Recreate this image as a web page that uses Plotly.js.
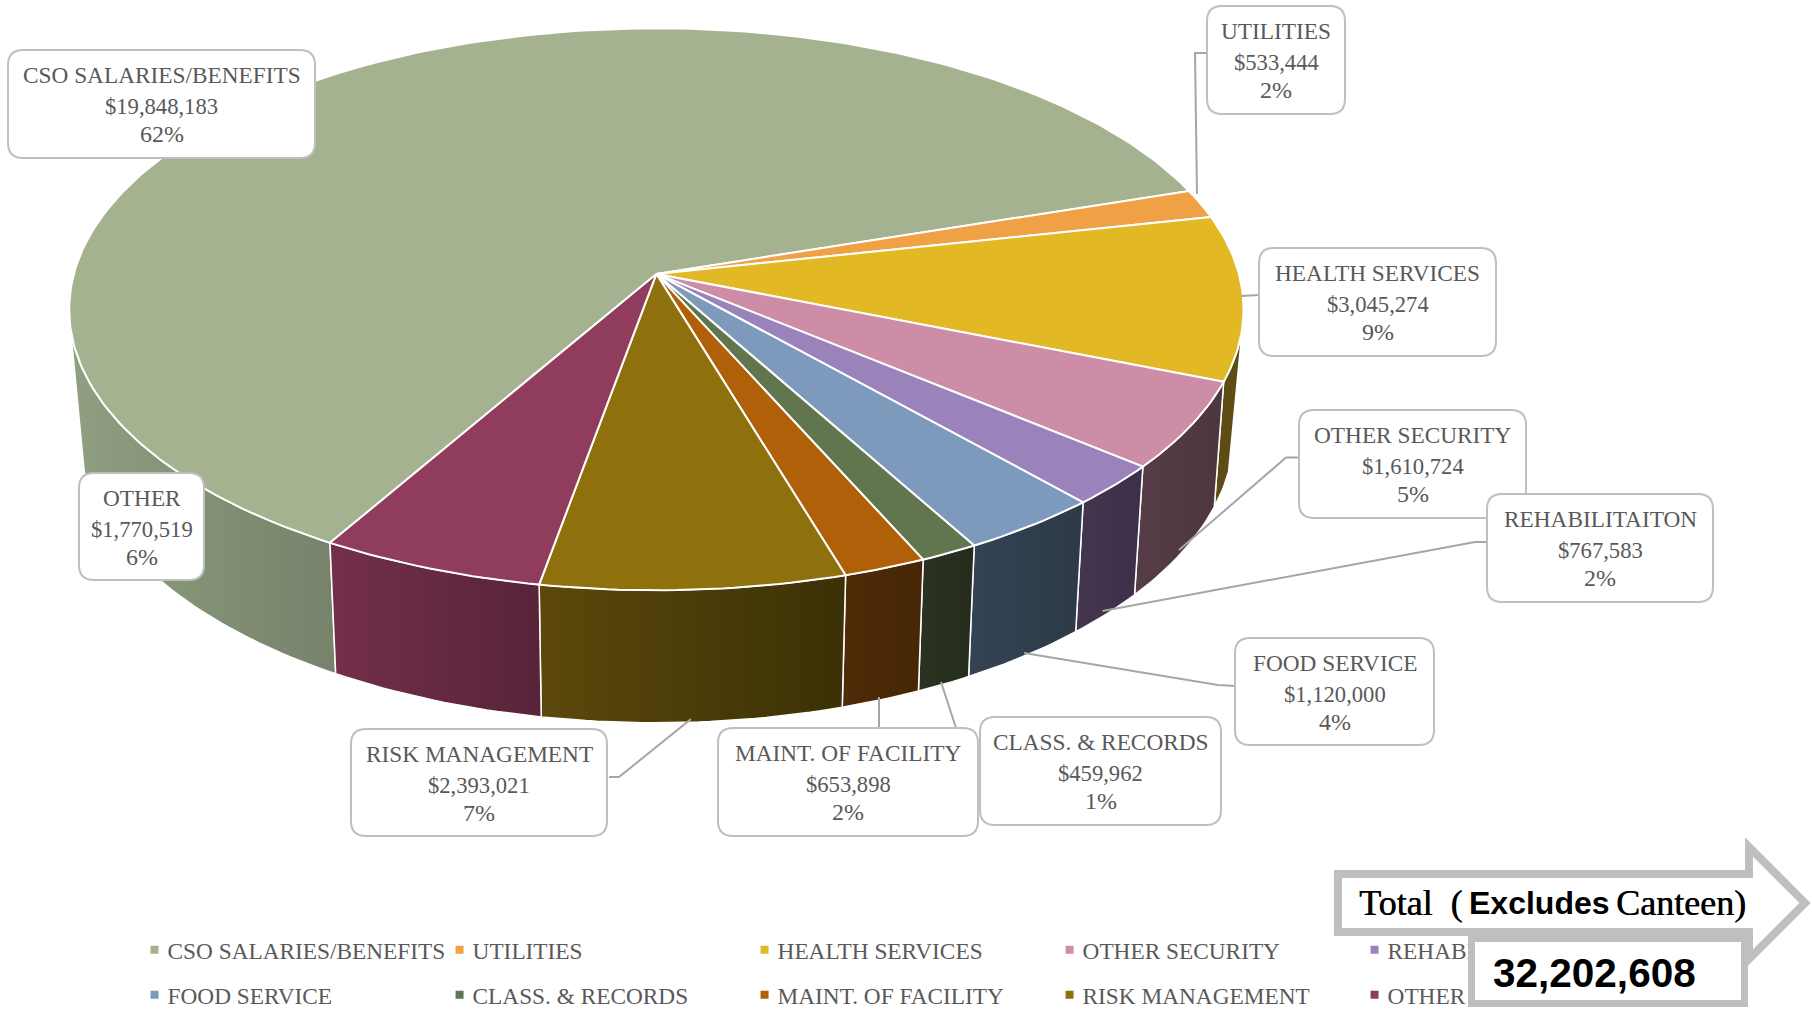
<!DOCTYPE html>
<html>
<head>
<meta charset="utf-8">
<script src="https://cdn.plot.ly/plotly-3.0.1.min.js"></script>
<style>html,body{margin:0;padding:0;background:#fff}#chart{width:1812px;height:1032px}</style>
</head>
<body>
<div id="chart"></div>
<script>
// ---------- data ----------
const categories = ['CSO SALARIES/BENEFITS','UTILITIES','HEALTH SERVICES','OTHER SECURITY','REHABILITAITON','FOOD SERVICE','CLASS. & RECORDS','MAINT. OF FACILITY','RISK MANAGEMENT','OTHER'];
const amounts = [19848183,533444,3045274,1610724,767583,1120000,459962,653898,2393021,1770519];
const percentLabels = [62,2,9,5,2,4,1,2,7,6];
const totalLabel = '32,202,608';

// ---------- styles ----------
const topColors = ['#A4B28F','#F0A146','#E2B925','#CD8DA6','#9A82BB','#7D9ABD','#61764F','#AF6008','#8E710D','#8F3C5D'];
const wallLeft  = ['#8F9F80','#8A5F2A','#5E4C14','#563C46','#44364F','#344355','#2A3322','#4F2C07','#5C480A','#742F49'];
const wallRight = ['#76826A','#8A5F2A','#5E4C14','#4D363F','#3C2F49','#2D3947','#252C1C','#462606','#3B3106','#57243A'];
const textColor = '#595959', boxLine = '#BFBFBF', font = 'Liberation Serif';

// ---------- perspective model of the pie ----------
const cx = 656.4, cy = 273.9, R = 582.5, S = 276.5, T = 123, k = 0.126, m = 0.016, startDeg = 209.95;
const leftTangent = [259, 255], rightTangent = [101, 105]; // [top rim, bottom rim] silhouette angles
function project(deg, z) {
  const a = deg * Math.PI / 180, u = Math.sin(a), v = -Math.cos(a);
  const w = 1 - k * v + m * z;
  return [cx + R * u / w, cy + (S * v + T * z) / w];
}
function arc(lo, hi, z) {
  const pts = [];
  if (hi <= lo) return pts;
  for (let s = 0, n = Math.max(2, Math.ceil(hi - lo)); s <= n; s++) pts.push(project(lo + (hi - lo) * s / n, z));
  return pts;
}
const total = amounts.reduce((a, b) => a + b, 0);
const traces = [], wallTraces = [], topTraces = [];
let angle = startDeg;
categories.forEach((name, i) => {
  const sweep = amounts[i] / total * 360, a0 = angle, a1 = angle + sweep;
  angle = a1;
  // top face
  const tx = [cx], ty = [cy];
  arc(a0, a1, 0).forEach(p => { tx.push(p[0]); ty.push(p[1]); });
  tx.push(cx); ty.push(cy);
  topTraces.push({type:'scatter', x:tx, y:ty, mode:'lines', fill:'toself', fillcolor:topColors[i],
    line:{color:'#FFFFFF', width:2}, showlegend:false, hoverinfo:'skip'});
  // side wall, front of the pie only
  const w0 = a0 % 360, w1 = w0 + sweep;
  [[w0, w1], [w0 - 360, w1 - 360]].forEach(seg => {
    const up = arc(Math.max(seg[0], rightTangent[0]), Math.min(seg[1], leftTangent[0]), 0);
    const dn = arc(Math.max(seg[0], rightTangent[1]), Math.min(seg[1], leftTangent[1]), 1).reverse();
    if (!up.length || !dn.length) return;
    const ring = up.concat(dn, [up[0]]);
    wallTraces.push({type:'scatter', x:ring.map(p => p[0]), y:ring.map(p => p[1]), mode:'lines', fill:'toself',
      fillgradient:{type:'horizontal', colorscale:[[0, wallLeft[i]], [1, wallRight[i]]]},
      line:{color:'#FFFFFF', width:1.5}, showlegend:false, hoverinfo:'skip'});
  });
  // legend entry
  traces.push({type:'scatter', x:[null], y:[null], mode:'markers', name:name,
    marker:{symbol:'square', size:8, color:topColors[i]}, legend: i < 5 ? 'legend' : 'legend2', hoverinfo:'skip'});
});

// ---------- label furniture (layout only) ----------
const boxes = [ // left, top, right, bottom, in category order
  [8,50,315,158],[1207,6,1345,114],[1259,248,1496,356],[1299,410,1526,518],[1487,494,1713,602],
  [1235,638,1434,745],[980,717,1221,825],[718,728,978,836],[351,729,607,836],[79,473,204,580]];
const leaders = [
  null,
  [[1206,53],[1195,53],[1197,194]],
  [[1259,295],[1241,296]],
  [[1299,457.5],[1286,457.5],[1179,550]],
  [[1487,542],[1475,542],[1102.5,611]],
  [[1236,686],[1218,685],[1024,653]],
  [[956,728],[941,682]],
  [[879,728],[879,697]],
  [[609,777],[619,777],[691,719]],
  null];
const lineOffsets = [25,56,84], lineSizes = [23.3,22.6,24];

function roundRect(l,t,r,b,q){
  return `M${l+q},${t}L${r-q},${t}Q${r},${t} ${r},${t+q}L${r},${b-q}Q${r},${b} ${r-q},${b}L${l+q},${b}Q${l},${b} ${l},${b-q}L${l},${t+q}Q${l},${t} ${l+q},${t}Z`;
}
const shapes = [], annotations = [];
leaders.forEach(pts => {
  if (!pts) return;
  shapes.push({type:'path', xref:'x', yref:'y', layer:'above',
    path:'M'+pts.map(p => p.join(',')).join('L'), line:{color:'#A6A6A6', width:2}, fillcolor:'rgba(0,0,0,0)'});
});
// boxes from back to front: REHABILITAITON sits over OTHER SECURITY
boxes.forEach((b, i) => {
  shapes.push({type:'path', xref:'x', yref:'y', layer:'above', path:roundRect(b[0],b[1],b[2],b[3],15),
    fillcolor:'#FFFFFF', line:{color:boxLine, width:2}});
  const lines = [categories[i], '$' + amounts[i].toLocaleString('en-US'), percentLabels[i] + '%'];
  lines.forEach((t, j) => annotations.push({xref:'x', yref:'y', x:(b[0]+b[2])/2, y:b[1]+lineOffsets[j],
    text:t.replace('&','&amp;'), showarrow:false, xanchor:'center', yanchor:'middle',
    font:{family:font, size:lineSizes[j], color:textColor}}));
});

// total arrow
shapes.push({type:'path', xref:'x', yref:'y', layer:'above',
  path:'M1338,874L1749,874L1749,847L1805,903L1749,959L1749,932L1338,932Z',
  fillcolor:'#FFFFFF', line:{color:boxLine, width:8}});
const heavy = '0.5px 0 0 #000000';
const totalWords = [
  {text:'Total\u00A0\u00A0(', x:1357, family:"'Liberation Serif', serif", size:36, weight:'normal', shadow:heavy},
  {text:'Excludes', x:1467, family:"'Liberation Sans', sans-serif", size:32, weight:'bold', shadow:'none'},
  {text:'Canteen)', x:1614, family:"'Liberation Serif', serif", size:36, weight:'normal', shadow:heavy}];
totalWords.forEach(w => annotations.push({xref:'x', yref:'y', x:w.x, y:903, showarrow:false, xanchor:'left', yanchor:'middle',
  text:w.text, font:{family:w.family, size:w.size, color:'#000000', weight:w.weight, shadow:w.shadow}}));
annotations.push({xref:'x', yref:'y', x:1608, y:971, showarrow:false, xanchor:'center', yanchor:'middle',
  width:266, height:58, text:'\u00A0', bgcolor:'#FFFFFF', bordercolor:boxLine, borderwidth:7, borderpad:0,
  font:{family:'Liberation Sans', size:12, color:'#000000'}});
annotations.push({xref:'x', yref:'y', x:1594, y:973, showarrow:false, xanchor:'center', yanchor:'middle',
  text:totalLabel, font:{family:'Liberation Sans', size:40.5, color:'#000000', weight:'bold'}});

const legendStyle = {orientation:'h', xanchor:'left', yanchor:'top', x:0.0704, entrywidth:260, entrywidthmode:'pixels',
  font:{family:font, size:23.3, color:textColor}, bgcolor:'rgba(0,0,0,0)', itemclick:false, itemdoubleclick:false};

const layout = {
  width:1812, height:1032, margin:{l:0, r:0, t:0, b:0, autoexpand:false},
  paper_bgcolor:'#FFFFFF', plot_bgcolor:'#FFFFFF',
  xaxis:{range:[0,1812], visible:false, fixedrange:true},
  yaxis:{range:[1032,0], visible:false, fixedrange:true},
  legend:Object.assign({}, legendStyle, {y:1 - 928/1032}),
  legend2:Object.assign({}, legendStyle, {y:1 - 973/1032}),
  shapes, annotations, hovermode:false
};
Plotly.newPlot('chart', wallTraces.concat(topTraces, traces), layout, {displayModeBar:false, responsive:false}).then(() => {
  // the reference keeps its legend swatches closer to their labels
  document.querySelectorAll('#chart .legendsymbols').forEach(g => g.setAttribute('transform', 'translate(7,0)'));
});
</script>
</body>
</html>
